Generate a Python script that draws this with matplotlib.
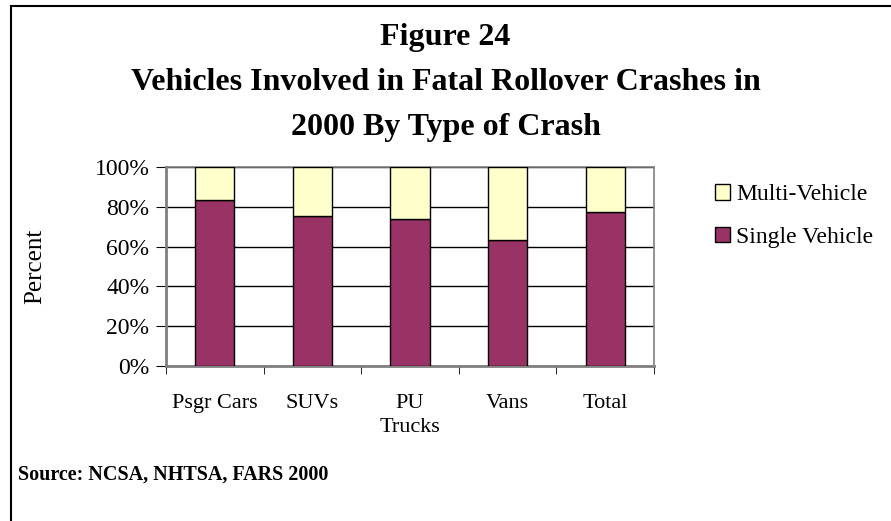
import matplotlib.pyplot as plt
import numpy as np

plt.rcParams['font.family'] = ['Liberation Serif', 'DejaVu Serif']

# categories and shares (percent)
categories = ['Psgr Cars', 'SUVs', 'PU\nTrucks', 'Vans', 'Total']
single_vehicle = [83.5, 75.6, 74.0, 63.4, 77.6]
multi_vehicle = [100 - v for v in single_vehicle]

maroon = '#993366'
cream = '#FFFFCC'

fig = plt.figure(figsize=(8.91, 5.21), dpi=100)
ax = fig.add_axes([166/891, 1 - 366/521, (654 - 166)/891, (366 - 167)/521])

x = np.arange(len(categories))
ax.bar(x, single_vehicle, width=0.4, color=maroon, edgecolor='black', linewidth=1,
       label='Single Vehicle', zorder=3)
ax.bar(x, multi_vehicle, width=0.4, bottom=single_vehicle, color=cream,
       edgecolor='black', linewidth=1, label='Multi-Vehicle', zorder=3)

ax.set_xlim(-0.5, len(categories) - 0.5)
ax.set_ylim(0, 100)
ax.set_yticks(range(0, 101, 20))
ax.set_yticklabels([f'{v}%' for v in range(0, 101, 20)], fontsize=17)
ax.yaxis.grid(True, color='black', linewidth=1, zorder=0)

ax.set_xticks(x)
ax.set_xticklabels(categories, fontsize=16, linespacing=1.4)
ax.tick_params(axis='x', length=0, pad=20)
ax.set_xticks(np.arange(-0.5, len(categories), 1), minor=True)
ax.tick_params(axis='x', which='minor', direction='out', length=6, color='black')
ax.tick_params(axis='y', direction='out', length=7, color='black', pad=5)

for s in ax.spines.values():
    s.set_color('#808080')
    s.set_linewidth(1.2)
ax.spines['left'].set_linewidth(2)
ax.spines['bottom'].set_linewidth(2)

fig.text(35/891, 1 - 266/521, 'Percent', rotation=90, ha='center', va='center',
         fontsize=18)

handles, labels = ax.get_legend_handles_labels()
fig.legend(handles[::-1], labels[::-1], loc='center left',
           bbox_to_anchor=(715/891, 1 - 216/521), borderpad=0, borderaxespad=0,
           frameon=False, fontsize=17, handlelength=0.65, handleheight=0.65,
           handletextpad=0.25, labelspacing=0.9)

fig.text(0.5, 1 - 37/521, 'Figure 24', ha='center', va='center',
         fontsize=23, fontweight='bold')
fig.text(0.5, 1 - 82/521, 'Vehicles Involved in Fatal Rollover Crashes in',
         ha='center', va='center', fontsize=23, fontweight='bold')
fig.text(0.5, 1 - 127/521, '2000 By Type of Crash', ha='center', va='center',
         fontsize=23, fontweight='bold')

fig.text(18/891, 1 - 475/521, 'Source: NCSA, NHTSA, FARS 2000', ha='left', va='center',
         fontsize=14.5, fontweight='bold')

# outer frame (left and top edges visible)
fig.add_artist(plt.Line2D([11/891, 11/891], [0, 1 - 6/521], color='black',
                          linewidth=1.5, transform=fig.transFigure))
fig.add_artist(plt.Line2D([11/891, 1], [1 - 6/521, 1 - 6/521], color='black',
                          linewidth=1.5, transform=fig.transFigure))

fig.savefig('out.png', dpi=100)
